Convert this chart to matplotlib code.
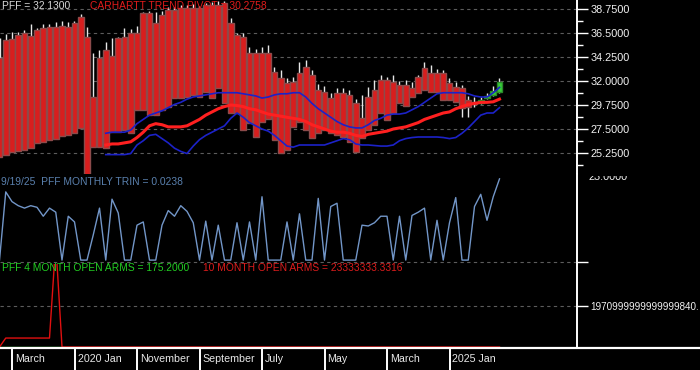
import numpy as np
import pandas as pd
import matplotlib
matplotlib.use("Agg")
import matplotlib.pyplot as plt
from matplotlib.lines import Line2D

plt.rcParams['font.family'] = ['Liberation Sans', 'DejaVu Sans']

# monthly bars, Jan 2019 .. Sep 2025
months = pd.period_range("2019-01", "2025-09", freq="M")

body_top = [34.2, 35.8, 35.9, 36.3, 36.5, 36.2, 36.8, 37.0, 37.1, 37.1,
            37.2, 37.1, 37.4, 38.0, 36.1, 30.5, 34.2, 34.9, 34.3, 36.0,
            36.1, 36.5, 36.5, 38.4, 38.4, 37.4, 38.2, 38.65, 38.65, 38.8,
            38.8, 38.8, 38.8, 39.1, 39.1, 39.1, 39.3, 37.4, 36.3, 36.1,
            34.6, 34.6, 34.6, 34.6, 32.8, 32.3, 31.8, 31.9, 32.75, 33.3,
            32.6, 31.2, 31.0, 30.4, 30.9, 30.9, 30.7, 29.9, 28.5, 30.5,
            31.2, 32.1, 32.1, 31.9, 31.6, 31.6, 31.3, 32.4, 33.2, 32.75,
            32.75, 32.75, 31.8, 31.4, 31.3, 30.2, 30.0, 30.2, 30.6, 31.1,
            31.9]
body_bot = [24.9, 25.1, 25.3, 25.4, 25.5, 25.7, 26.2, 26.3, 26.5, 26.6,
            26.8, 26.9, 27.1, 27.6, 23.2, 25.8, 25.8, 25.7, 27.2, 27.2,
            27.4, 27.1, 29.3, 29.3, 28.8, 28.8, 29.3, 29.6, 30.4, 30.4,
            30.5, 30.7, 30.5, 31.0, 30.4, 31.3, 29.9, 29.0, 29.0, 27.4,
            28.1, 26.75, 28.2, 28.4, 26.5, 25.25, 25.5, 27.7, 28.2, 27.4,
            26.7, 27.1, 27.4, 27.1, 26.9, 26.75, 26.3, 25.35, 26.7, 27.4,
            27.9, 29.0, 28.3, 29.0, 29.9, 29.7, 30.5, 30.9, 31.2, 31.0,
            31.0, 30.2, 30.2, 30.0, 29.5, 29.6, 29.8, 29.9, 30.4, 30.65,
            31.0]
bar_high = [36.0, 36.4, 36.6, 36.6, 36.8, 37.3, 37.0, 37.3, 37.3, 37.5,
            37.6, 37.5, 37.6, 38.3, 37.1, 34.6, 34.9, 35.7, 36.0, 36.1,
            37.0, 36.9, 37.2, 38.5, 38.6, 38.5, 38.6, 38.9, 38.9, 39.1,
            39.1, 39.2, 39.0, 39.3, 39.4, 39.5, 39.5, 37.9, 36.5, 36.5,
            35.2, 35.0, 35.2, 35.4, 33.3, 33.0, 32.3, 32.4, 33.8, 34.0,
            33.0, 31.7, 31.5, 30.9, 31.3, 31.3, 31.2, 30.3, 30.7, 31.4,
            32.1, 32.6, 32.4, 32.6, 32.0, 32.1, 31.9, 32.6, 33.8, 33.5,
            33.1, 33.0, 32.3, 31.9, 31.6, 30.6, 30.5, 30.5, 30.9, 31.5,
            32.3]
bar_low = [24.9, 25.1, 25.3, 25.4, 25.5, 25.7, 26.2, 26.3, 26.5, 26.6,
           26.8, 26.9, 27.1, 27.6, 23.2, 25.8, 25.8, 25.7, 27.2, 27.2,
           27.4, 27.1, 29.3, 29.3, 28.8, 28.8, 29.3, 29.6, 30.4, 30.4,
           30.5, 30.7, 30.5, 31.0, 30.4, 31.3, 29.9, 29.0, 29.0, 27.4,
           28.1, 26.75, 28.2, 28.4, 26.5, 25.25, 25.5, 27.7, 28.2, 27.4,
           26.7, 27.1, 27.4, 27.1, 26.9, 26.75, 26.3, 25.35, 26.7, 27.4,
           27.9, 29.0, 28.3, 29.0, 29.9, 29.7, 30.5, 30.9, 31.2, 31.0,
           31.0, 30.2, 30.2, 30.0, 28.6, 28.6, 29.6, 29.8, 30.3, 30.6,
           30.9]
up_months = 4  # last bars drawn green

# bands from May 2020
band_upper = [27.1, 27.2, 27.2, 27.2, 27.4, 28.0, 28.4, 28.8, 29.0, 29.2,
              29.5, 29.8, 30.0, 30.3, 30.5, 30.6, 30.7, 30.8, 30.9, 30.9,
              30.9, 30.9, 30.8, 30.7, 30.6, 30.4, 30.5, 30.7, 30.8, 30.8,
              30.9, 30.9, 30.5, 29.9, 29.4, 29.0, 28.6, 28.2, 27.9, 27.7,
              27.6, 27.6, 27.9, 28.3, 28.5, 28.8, 28.9, 28.9, 29.0, 29.3,
              29.6, 30.0, 30.4, 30.8, 30.9, 30.9, 30.9, 30.9, 30.8, 30.6,
              30.5, 30.5, 30.9, 31.4]
band_mid = [26.0, 26.1, 26.1, 26.2, 26.3, 26.7, 27.2, 27.8, 28.0, 27.9,
            27.7, 27.7, 27.7, 27.8, 28.1, 28.4, 28.8, 29.1, 29.4, 29.6,
            29.75, 29.7, 29.6, 29.4, 29.3, 29.1, 28.9, 28.8, 28.7, 28.6,
            28.5, 28.4, 28.2, 27.9, 27.7, 27.5, 27.3, 27.2, 27.2, 27.1,
            26.9, 26.8, 27.0, 27.1, 27.2, 27.3, 27.5, 27.6, 27.7, 27.9,
            28.1, 28.4, 28.6, 28.8, 29.0, 29.1, 29.4, 29.6, 29.8, 29.9,
            30.0, 30.0, 30.05, 30.3]
band_lower = [25.1, 25.1, 25.1, 25.1, 25.2, 26.0, 26.4, 26.9, 27.0, 26.6,
              26.2, 25.7, 25.4, 25.2, 25.9, 26.5, 26.9, 27.2, 27.5, 27.8,
              28.5, 29.0, 28.6, 28.1, 27.8, 27.5, 27.3, 26.9, 26.4, 25.9,
              25.8, 26.0, 26.0, 26.0, 26.0, 26.0, 26.2, 26.4, 26.6, 26.5,
              26.1, 26.0, 26.0, 25.95, 25.9, 25.9, 26.0, 26.4, 26.6, 26.7,
              26.75, 26.75, 26.75, 26.75, 26.7, 26.6, 26.7, 27.1, 27.6, 28.2,
              28.8, 29.0, 29.0, 29.5]

trin = [0, 0.84, 0.72, 0.67, 0.64, 0.67, 0.65, 0.54, 0.64, 0.59,
        0, 0.54, 0.47, 0, 0, 0.31, 0.64, 0, 0.75, 0.58,
        0, 0, 0.43, 0.47, 0, 0, 0.43, 0.61, 0.54, 0.67,
        0.60, 0.46, 0, 0.48, 0, 0.43, 0, 0, 0.46, 0,
        0.47, 0, 0.78, 0, 0, 0, 0.47, 0, 0.57, 0,
        0, 0.76, 0, 0.66, 0.70, 0, 0, 0, 0.43, 0.42,
        0.46, 0.54, 0.54, 0, 0.54, 0, 0.55, 0.59, 0.64, 0,
        0.49, 0, 0.46, 0.77, 0, 0, 0.66, 0.81, 0.49, 0.78,
        1.0]

arms4 = [2e16, 2e16, 2e16, 2e16, 2e16, 2e16, 2e16, 2e16, 2e16, 2e16, 2e16]
arms10 = [0.0, 4.3e17, 4.3e17, 4.3e17, 4.3e17, 4.3e17, 4.3e17, 4.3e17, 4.3e17, 5.0e18] + [0.0] * 71
arms_tick = 1.971e18

price_ticks = [23.0, 25.25, 27.5, 29.75, 32.0, 34.25, 36.5, 38.75]
tick_pos = [2, 12, 22, 32, 42, 52, 62, 72]
tick_labels = ["March", "2020 Jan", "November", "September", "July", "May", "March", "2025 Jan"]

W, H = 700, 370
fig = plt.figure(figsize=(7, 3.7), dpi=100, facecolor="black")

def box(x0, y0, x1, y1):
    return [x0 / W, 1 - y1 / H, (x1 - x0) / W, (y1 - y0) / H]

x = np.arange(len(months))
xl = (0.08, 92.4)
axr = 577
grid_kw = dict(color="#5c5c5c", lw=0.8, ls=(0, (3, 3)))

ax1 = fig.add_axes(box(0, 0, axr, 174), facecolor="black")
ax2 = fig.add_axes(box(0, 174, axr, 264), facecolor="black")
ax3 = fig.add_axes(box(0, 264, axr, 348), facecolor="black")

for ax in (ax1, ax2, ax3):
    ax.set_xlim(*xl)
    for s in ("top", "left", "bottom"):
        ax.spines[s].set_visible(False)
    ax.spines["right"].set_color("white")
    ax.spines["right"].set_linewidth(1.2)
    ax.set_xticks([])
    ax.yaxis.tick_right()
    ax.tick_params(axis="y", which="major", length=8, width=1, colors="white",
                   labelcolor="#f2f2f2", labelsize=7.8, pad=1.5)
    ax.tick_params(axis="y", which="minor", length=4.2, width=1, colors="white")

# price panel
colors = ["#d81e1e"] * (len(x) - up_months) + ["#38cc38"] * up_months
edges = ["#8c4b4b"] * (len(x) - up_months) + ["#2a8a2a"] * up_months
top = np.array(body_top)
bot = np.array(body_bot)
ax1.vlines(x, top, bar_high, color="#e6e6e6", lw=1.0, zorder=2)
ax1.vlines(x, bar_low, bot, color="#e6e6e6", lw=1.0, zorder=2)
ax1.bar(x, top - bot, bottom=bot, width=0.9, color=colors, edgecolor=edges, lw=1.0, zorder=3)
bx = x[len(x) - len(band_mid):]
ax1.plot(bx, band_upper, color="#1c22c8", lw=1.2, zorder=4)
ax1.plot(bx, band_lower, color="#1c22c8", lw=1.2, zorder=4)
ax1.plot(bx, band_mid, color="#ff2020", lw=2.2, zorder=5)
ax1.set_ylim(23.281, 39.594)
ax1.set_yticks(price_ticks[1:])
ax1.set_yticklabels([f"{v:.4f}" for v in price_ticks[1:]])
ax1.set_yticks([v + 1.125 for v in price_ticks[:-1]], minor=True)
for v in price_ticks[1:]:
    ax1.axhline(v, zorder=1, **grid_kw)

# trin panel
ax2.plot(x, trin, color="#7296c8", lw=1.0)
ax2.set_ylim(-0.048, 1.06)
ax2.axhline(-0.024, **grid_kw)
ax2.set_yticks([-0.024])
ax2.set_yticklabels([""])

# open arms panel
ax3.plot(x[:len(arms4)], arms4, color="#22bb22", lw=1.0)
ax3.plot(x, arms10, color="#e01010", lw=1.0)
ax3.set_ylim(-0.024 * arms_tick, 2.02 * arms_tick)
ax3.axhline(arms_tick, **grid_kw)
ax3.set_yticks([arms_tick])
ax3.set_yticklabels(["1970999999999999840."], fontsize=7.1)

# clipped 23.0000 label under the price panel
axc = fig.add_axes(box(axr + 1, 176, W, 264))
axc.set_axis_off()
axc.set_xlim(axr + 1, W)
axc.set_ylim(264, 176)
axc.text(589, 177, f"{price_ticks[0]:.4f}", color="#f2f2f2", fontsize=7.8,
         va="center", ha="left", clip_on=True)

# date strip
axd = fig.add_axes(box(0, 348, W, H), facecolor="black")
axd.set_xlim(xl[0], xl[0] + W / 6.25)
axd.set_ylim(0, 1)
for s in ("left", "right", "bottom"):
    axd.spines[s].set_visible(False)
axd.spines["top"].set_color("white")
axd.spines["top"].set_linewidth(1.6)
axd.set_xticks([])
axd.set_yticks([])
for p, lab in zip(tick_pos, tick_labels):
    axd.axvline(p, color="white", lw=1.4)
    axd.annotate(lab, xy=(p, 0.5), xytext=(3, 0), textcoords="offset pixels",
                 color="#e8e8e8", fontsize=7.7, ha="left", va="center")

# right axis line through all panels
fig.add_artist(Line2D([axr / W, axr / W], [1 - 348 / H, 1], color="white", lw=1.2))

def label(px, py, s, c):
    fig.text(px / W, 1 - py / H, s, color=c, fontsize=7.4, ha="left", va="center", zorder=10)

label(2, 6, "PFF = 32.1300", "#d8d8d8")
label(90, 6, "CARHARTT TREND PIVOT = 30.2758", "#e21b1b")
label(1, 182, "9/19/25  PFF MONTHLY TRIN = 0.0238", "#5a80ae")
label(2, 268, "PFF 4 MONTH OPEN ARMS = 175.2000", "#22cc22")
label(203, 268, "10 MONTH OPEN ARMS = 23333333.3316", "#dd1c1c")

fig.savefig("out.png", dpi=100, facecolor="black")
